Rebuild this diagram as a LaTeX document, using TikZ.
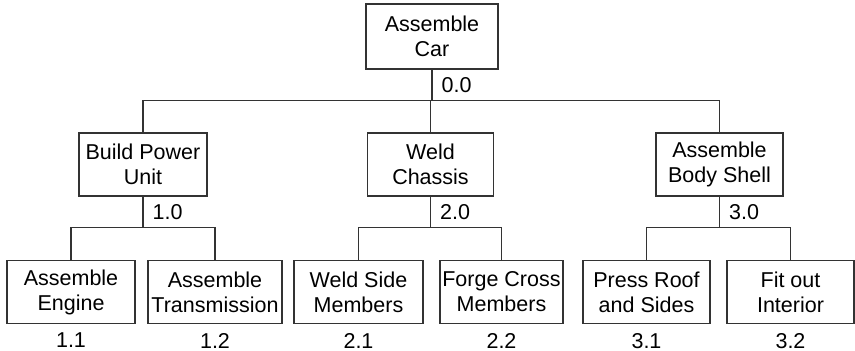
\documentclass[tikz,border=0pt]{standalone}
\usepackage{fontspec}
\setmainfont{Liberation Sans}
\usetikzlibrary{positioning}

\begin{document}
\begin{tikzpicture}
         [x=1pt,y=1pt,line width=1.2pt,
          task/.style={rectangle,draw=black!80,minimum height=63pt,align=center,inner sep=0pt,
                       font=\fontsize{21.5}{25}\selectfont},
          num/.style={inner sep=0pt,font=\fontsize{21.5}{25}\selectfont},
          link/.style={draw=black!80}]
         \useasboundingbox (0,0) rectangle (855,351);
         % top level
         \node[task,minimum width=132pt,minimum height=65pt] (car) at (432,314.5) {Assemble\\Car};
         % second level
         \node[task,minimum width=128pt] (bpu) at (143,186.5)   {Build Power\\Unit};
         \node[task,minimum width=126pt] (wc)  at (430.5,186.5) {Weld\\Chassis};
         \node[task,minimum width=127pt] (abs) at (719.5,186.5) {Assemble\\Body Shell};
         % third level
         \node[task,minimum width=128pt] (ae)  at (71,59)    {Assemble\\Engine};
         \node[task,minimum width=134pt] (at)  at (215,59)   {Assemble\\Transmission};
         \node[task,minimum width=129pt] (wsm) at (358.5,59) {Weld Side\\Members};
         \node[task,minimum width=123pt] (fcm) at (501.5,59) {Forge Cross\\Members};
         \node[task,minimum width=127pt] (prs) at (646.5,59) {Press Roof\\and Sides};
         \node[task,minimum width=127pt] (foi) at (790.5,59) {Fit out\\Interior};
         % connectors
         \foreach \from/\to in {car/bpu, car/wc, car/abs, bpu/ae, bpu/at, wc/wsm, wc/fcm, abs/prs, abs/foi}
            \draw[link] (\from.south) -- ++(0,-31) -| (\to.north);
         % numbers
         \foreach \nd/\lbl in {car/0.0, bpu/1.0, wc/2.0, abs/3.0}
            \node[num,anchor=west] (n\nd) at ([xshift=9pt,yshift=-16pt]\nd.south) {\lbl};
         \foreach \nd/\lbl in {ae/1.1, at/1.2, wsm/2.1, fcm/2.2, prs/3.1, foi/3.2}
            \node[num] (n\nd) at ([yshift=-16.5pt]\nd.south) {\lbl};
       \end{tikzpicture}
\end{document}
